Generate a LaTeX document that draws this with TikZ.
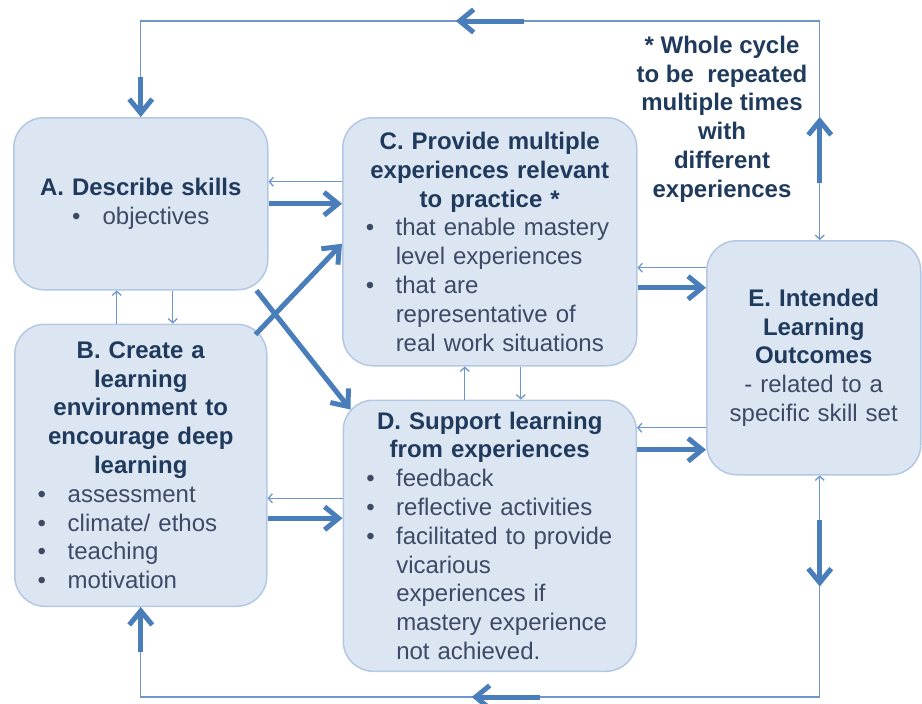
\documentclass[tikz,border=0pt]{standalone}
\usepackage{fontspec}
\setmainfont{Liberation Sans}
\usepackage{tikz}
\usetikzlibrary{arrows.meta,positioning}
\definecolor{boxfill}{RGB}{220,230,242}
\definecolor{boxline}{RGB}{180,200,228}
\definecolor{arrblue}{RGB}{74,126,187}
\definecolor{thinblue}{RGB}{110,150,205}
\definecolor{headtxt}{RGB}{31,58,92}
\definecolor{bodytxt}{RGB}{60,74,102}
\newcommand{\hd}[1]{\textbf{\color{headtxt}#1}}
\newcommand{\bitem}[1]{\makebox[\hsize][l]{\hspace*{23pt}\makebox[30pt][l]{\textbullet}#1}}
\newcommand{\bmore}[1]{\makebox[\hsize][l]{\hspace*{53pt}#1}}

\begin{document}
\begin{tikzpicture}[x=1pt, y=-1pt,
  box/.style={draw=boxline, line width=1.5pt, fill=boxfill, rounded corners=30pt,
              inner xsep=0pt, inner ysep=0pt, align=center, text=bodytxt,
              font=\fontsize{24}{28.8}\selectfont},
  arr/.style={-{Straight Barb[length=14pt,width=23pt]}, draw=arrblue, line width=5pt},
  tarr/.style={-{Straight Barb[length=4pt,width=9pt]}, draw=thinblue, line width=1.3pt}]
  \useasboundingbox (0,0) rectangle (922,704);
  \node[box, anchor=north west, text width=254pt, minimum height=172pt] (a) at (13,117)
    {\hd{A. Describe skills}\\ \textbullet\hspace{22pt}objectives};
  \node[box, text width=252pt, minimum height=282pt, below=33pt of a] (b)
    {\hd{B. Create a}\\ \hd{learning}\\ \hd{environment to}\\ \hd{encourage deep}\\ \hd{learning}\\
     \bitem{assessment}\\ \bitem{climate/ ethos}\\ \bitem{teaching}\\ \bitem{motivation}};
  \node[box, anchor=north west, text width=294pt, minimum height=248pt] (c) at (342,117)
    {\hd{C. Provide multiple}\\ \hd{experiences relevant}\\ \hd{to practice *}\\
     \bitem{that enable mastery}\\ \bmore{level experiences}\\ \bitem{that are}\\
     \bmore{representative of}\\ \bmore{real work situations}};
  \node[box, text width=293pt, minimum height=271pt, below=33pt of c] (d)
    {\hd{D. Support learning}\\ \hd{from experiences}\\ \bitem{feedback}\\ \bitem{reflective activities}\\
     \bitem{facilitated to provide}\\ \bmore{vicarious}\\ \bmore{experiences if}\\
     \bmore{mastery experience}\\ \bmore{not achieved.}};
  \node[box, anchor=north west, text width=214pt, minimum height=234pt] (e) at (706,240)
    {\hd{E. Intended}\\ \hd{Learning}\\ \hd{Outcomes}\\ - related to a\\ specific skill set};
  \node[align=center, text=headtxt, font=\bfseries\fontsize{24}{28.8}\selectfont] (note) at (722,119)
    {* Whole cycle\\ to be~ repeated\\ multiple times\\ with\\ different\\ experiences};
  \coordinate (ltop) at (0,21);
  \coordinate (lbot) at (0,697);
  \draw[tarr] ([yshift=22pt]a.east -| c.west) -- ([yshift=22pt]a.east);
  \draw[arr] (a.east) -- (a.east -| c.west);
  \draw[tarr] ([xshift=-24pt]b.north) -- ([xshift=-24pt]b.north |- a.south);
  \draw[tarr] ([xshift=32pt]a.south) -- ([xshift=32pt]a.south |- b.north);
  \draw[arr] ([xshift=-12pt]a.south east) -- ([xshift=8pt,yshift=-10pt]d.north west);
  \draw[arr] ([xshift=-12pt,yshift=-11pt]b.north east) -- ([yshift=-2pt]c.west);
  \draw[tarr] ([yshift=-33pt]b.east -| d.west) -- ([yshift=-33pt]b.east);
  \draw[arr] ([yshift=-53pt]b.east) -- ([yshift=-53pt]b.east -| d.west);
  \draw[tarr] ([xshift=-25pt]d.north) -- ([xshift=-25pt]d.north |- c.south);
  \draw[tarr] ([xshift=31pt]c.south) -- ([xshift=31pt]c.south |- d.north);
  \draw[tarr] ([yshift=-26pt]c.east -| e.west) -- ([yshift=-26pt]c.east);
  \draw[arr] ([yshift=-46pt]c.east) -- ([yshift=-46pt]c.east -| e.west);
  \draw[tarr] ([yshift=-70pt]e.west) -- ([yshift=-70pt]e.west -| d.east);
  \draw[arr] ([yshift=-92pt]e.west -| d.east) -- ([yshift=-92pt]e.west);
  \draw[tarr] (a.north) -- (a.north |- ltop) -| ([xshift=6pt]e.north);
  \draw[arr] ([yshift=40pt]a.north) -- (a.north);
  \draw[arr] ([xshift=34pt]c.north |- ltop) -- ([xshift=-34pt]c.north |- ltop);
  \draw[arr] ([xshift=6pt,yshift=57pt]e.north) -- ([xshift=6pt,yshift=123pt]e.north);
  \draw[tarr] (b.south) -- (b.south |- lbot) -| ([xshift=6pt]e.south);
  \draw[arr] ([yshift=-45pt]b.south) -- (b.south);
  \draw[arr] ([xshift=50pt]d.south |- lbot) -- ([xshift=-18pt]d.south |- lbot);
  \draw[arr] ([xshift=6pt,yshift=-44pt]e.south) -- ([xshift=6pt,yshift=-111pt]e.south);
\end{tikzpicture}
\end{document}
